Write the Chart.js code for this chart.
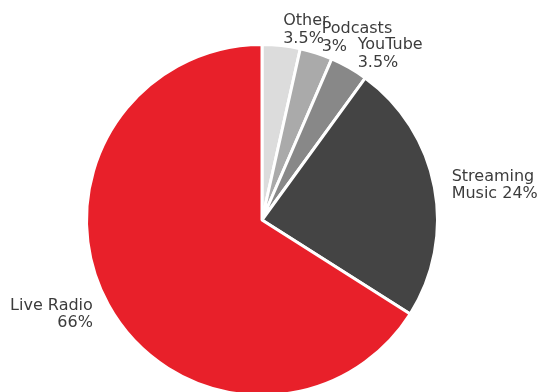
<!DOCTYPE html>
<html>
<head>
<meta charset="utf-8">
<script src="https://cdn.jsdelivr.net/npm/chart.js@4"></script>
<style>
  html, body { margin: 0; padding: 0; background: #ffffff; overflow: hidden; }
  #wrap { width: 542px; height: 440px; }
</style>
</head>
<body>
<div id="wrap"><canvas id="pie" width="542" height="440"></canvas></div>
<script>
// Audio listening share, clockwise from 12 o'clock
const categories = ['Other', 'Podcasts', 'YouTube', 'Streaming Music', 'Live Radio'];
const shares = [3.5, 3, 3.5, 24, 66];
const sliceLabels = [
  ['Other', '3.5%'],
  ['Podcasts', '3%'],
  ['YouTube', '3.5%'],
  ['Streaming', 'Music 24%'],
  ['Live Radio', '66%']
];
const sliceColors = ['#dcdcdc', '#aaaaaa', '#888888', '#444444', '#e8202a'];

// Writes each slice's label just outside the rim, at the slice's mid angle
const outerLabels = {
  id: 'outerLabels',
  afterDatasetsDraw(chart) {
    const ctx = chart.ctx;
    const meta = chart.getDatasetMeta(0);
    const fontSize = 16;
    const lineH = 17.5;
    ctx.save();
    ctx.font = fontSize + 'px "DejaVu Sans"';
    ctx.fillStyle = '#3c3c3c';
    ctx.textBaseline = 'middle';
    meta.data.forEach((arc, i) => {
      const p = arc.getProps(['x', 'y', 'startAngle', 'endAngle', 'outerRadius'], true);
      const mid = (p.startAngle + p.endAngle) / 2;
      const r = p.outerRadius * 1.1;
      const lx = p.x + r * Math.cos(mid);
      const ly = p.y + r * Math.sin(mid) + 1.5;
      ctx.textAlign = Math.cos(mid) >= 0 ? 'left' : 'right';
      const lines = sliceLabels[i];
      const top = ly - (lines.length - 1) * lineH / 2;
      lines.forEach((t, k) => ctx.fillText(t, lx, top + k * lineH));
    });
    ctx.restore();
  }
};

new Chart(document.getElementById('pie'), {
  type: 'pie',
  data: {
    labels: categories,
    datasets: [{
      data: shares,
      backgroundColor: sliceColors,
      borderColor: '#ffffff',
      borderWidth: 3
    }]
  },
  options: {
    responsive: false,
    animation: false,
    layout: { padding: { left: 85, right: 103, top: 43, bottom: 43 } },
    plugins: {
      legend: { display: false },
      tooltip: { enabled: false }
    }
  },
  plugins: [outerLabels]
});
</script>
</body>
</html>
